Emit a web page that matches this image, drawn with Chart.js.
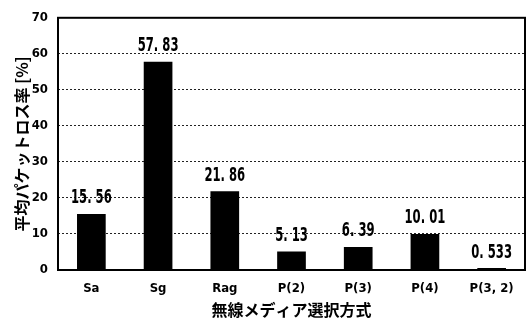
<!DOCTYPE html>
<html><head><meta charset="utf-8">
<script src="https://cdn.jsdelivr.net/npm/chart.js@4"></script>
<style>html,body{margin:0;padding:0;background:#fff}#w{width:528px;height:320px}</style>
</head><body><div id="w"><canvas id="c"></canvas></div>
<script>
const categories = ['Sa', 'Sg', 'Rag', 'P(2)', 'P(3)', 'P(4)', 'P(3, 2)'];
const lossRate = [15.56, 57.83, 21.86, 5.13, 6.39, 10.01, 0.533];
const valueLabels = ['15. 56', '57. 83', '21. 86', '5. 13', '6. 39', '10. 01', '0. 533'];
const yTicks = [0, 10, 20, 30, 40, 50, 60, 70];

const FONT = '"DejaVu Sans Condensed", "Liberation Sans", sans-serif';

const frame = {
  id: 'frame',
  afterDatasetsDraw(chart) {
    const {ctx, chartArea: a} = chart;
    ctx.save();
    ctx.strokeStyle = '#000';
    ctx.lineWidth = 2;
    ctx.strokeRect(a.left, a.top, a.right - a.left, a.bottom - a.top);
    const meta = chart.getDatasetMeta(0);
    ctx.fillStyle = '#000';
    ctx.font = 'bold 19px ' + FONT;
    ctx.textAlign = 'center';
    ctx.textBaseline = 'bottom';
    const sx = 0.68;
    meta.data.forEach((bar, i) => {
      ctx.save();
      ctx.translate(bar.x, bar.y - 6);
      ctx.scale(sx, 1);
      ctx.fillText(valueLabels[i], 0, 0);
      ctx.restore();
    });
    ctx.restore();
  }
};

new Chart(document.getElementById('c'), {
  type: 'bar',
  data: {
    labels: categories,
    datasets: [{
      data: lossRate,
      backgroundColor: '#000',
      borderWidth: 0,
      barPercentage: 0.43,
      categoryPercentage: 1.0
    }]
  },
  options: {
    responsive: true,
    maintainAspectRatio: false,
    animation: false,
    layout: {padding: {top: 14, right: 3, left: 12, bottom: 0}},
    plugins: {legend: {display: false}, tooltip: {enabled: false}},
    scales: {
      x: {
        afterFit(s) { s.height = 50; },
        grid: {display: false, drawTicks: false},
        border: {display: false},
        ticks: {color: '#000', font: {family: FONT, size: 13, weight: 'bold'}, padding: 11},
        title: {display: true, text: '無線メディア選択方式', color: '#000',
          font: {family: '"Noto Sans CJK JP", sans-serif', size: 16, weight: 'bold'}, padding: {top: 0, bottom: 0}}
      },
      y: {
        min: 0, max: 70,
        afterFit(s) { s.width = 46; },
        afterBuildTicks(s) { s.ticks = yTicks.map(v => ({value: v})); },
        grid: {
          color: (c) => (c.tick && (c.tick.value === 0 || c.tick.value === 70)) ? 'rgba(0,0,0,0)' : '#222',
          lineWidth: 1, drawTicks: false
        },
        border: {display: false, dash: [2, 2]},
        ticks: {color: '#000', font: {family: FONT, size: 13, weight: 'bold'}, padding: 10},
        title: {display: true, text: '平均パケットロス率 [%]', color: '#000',
          font: {family: '"Noto Sans CJK JP", sans-serif', size: 16, weight: 'bold'}, padding: {top: 0, bottom: 0}}
      }
    }
  },
  plugins: [frame]
});
</script></body></html>
